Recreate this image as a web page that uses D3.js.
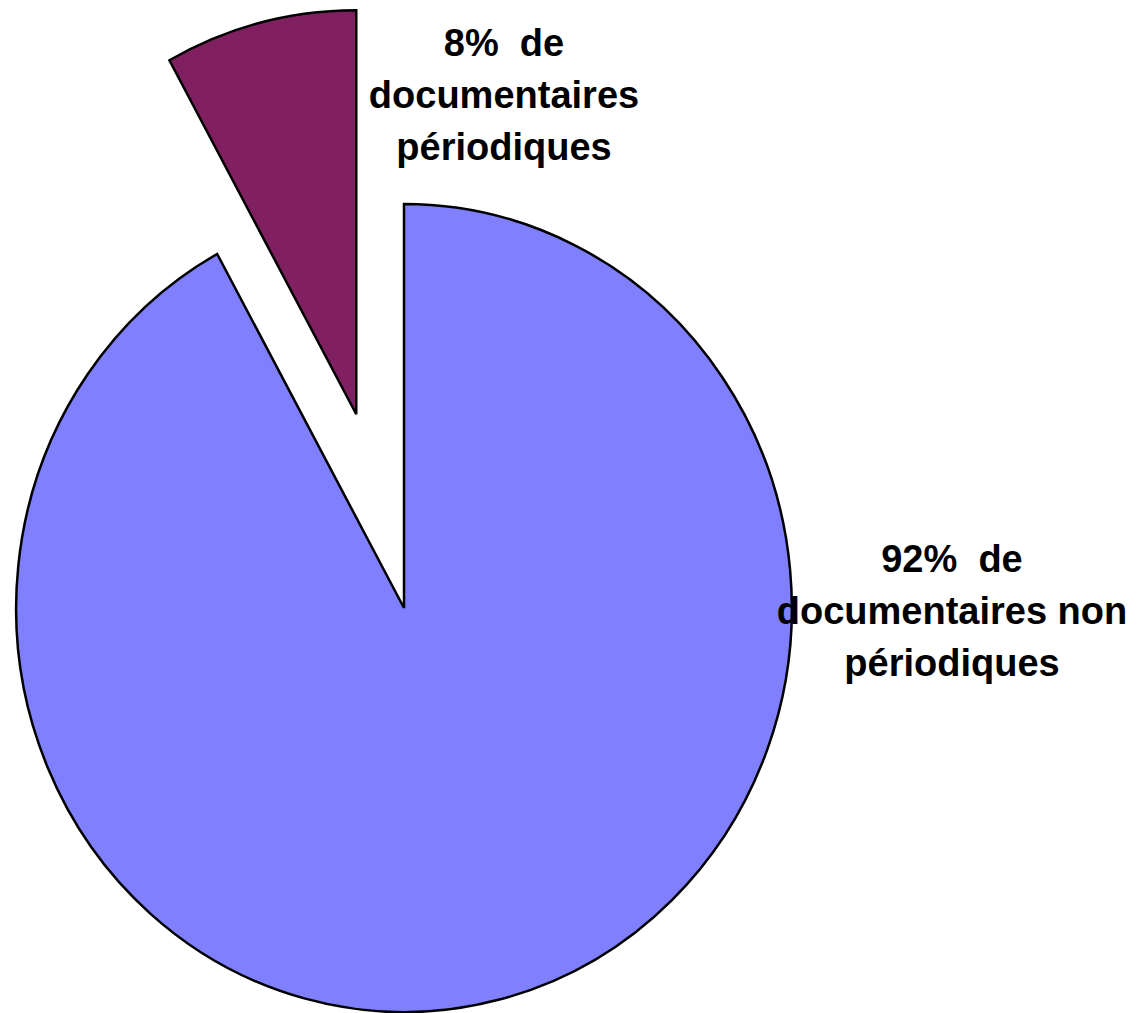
<!DOCTYPE html>
<html>

<head>
  <meta charset="utf-8">
  <title>pie-chart</title>
  <style>
    * {
      padding: 0;
      margin: 0;
    }

    body {
      background: #fff;
    }

    .label {
      font-family: "Liberation Sans", Arial, sans-serif;
      font-weight: bold;
      font-size: 38px;
      fill: #000;
      white-space: pre;
    }
  </style>
</head>

<body>
  <svg id="svg"></svg>
  <script src="https://cdnjs.cloudflare.com/ajax/libs/d3/7.8.5/d3.min.js"></script>
  <script>
    // data
    const categories = ['documentaires non périodiques', 'documentaires périodiques'];
    const values = [92, 8];
    const colors = ['#8080ff', '#802060'];
    const exploded = [0, 200];
    const labelLines = [
      ['92%  de', 'documentaires non', 'périodiques'],
      ['8%  de', 'documentaires', 'périodiques']
    ];

    const width = 1142, height = 1013;
    const cx = 404, cy = 608, r = 404, sx = 0.96;

    const svg = d3.select('#svg').attr('width', width).attr('height', height);

    const pie = d3.pie().sort(null).value(d => d)(values);
    const arc = d3.arc().innerRadius(0).outerRadius(r);

    const g = svg.append('g').attr('transform', `translate(${cx}, ${cy}) scale(${sx}, 1)`);

    g.selectAll('path')
      .data(pie)
      .enter()
      .append('path')
      .attr('d', arc)
      .attr('transform', (d, i) => {
        const mid = (d.startAngle + d.endAngle) / 2;
        return `translate(${Math.sin(mid) * exploded[i]}, ${-Math.cos(mid) * exploded[i]})`;
      })
      .attr('fill', (d, i) => colors[i])
      .attr('stroke', '#000')
      .attr('stroke-width', 2.5)
      .attr('vector-effect', 'non-scaling-stroke')
      .attr('stroke-linejoin', 'miter');

    // labels (placed like the original)
    const labelPos = [
      { x: 952, y: 572 },
      { x: 504, y: 56 }
    ];

    labelLines.forEach((lines, i) => {
      const t = svg.append('text')
        .attr('class', 'label')
        .attr('text-anchor', 'middle')
        .attr('x', labelPos[i].x)
        .attr('y', labelPos[i].y);
      lines.forEach((line, j) => {
        t.append('tspan')
          .attr('x', labelPos[i].x)
          .attr('dy', j === 0 ? 0 : 52)
          .text(line);
      });
    });
  </script>
</body>

</html>
